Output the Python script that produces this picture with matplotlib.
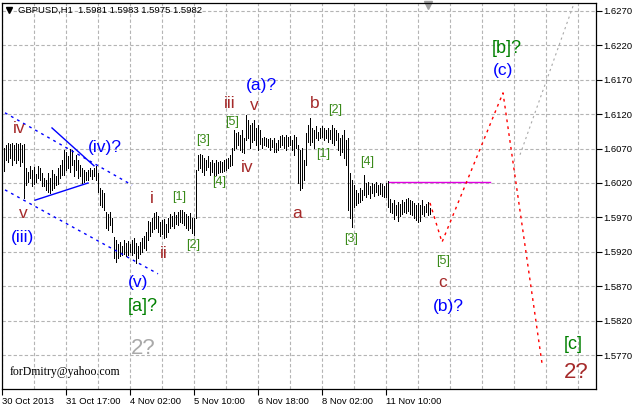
#GBPUSD H1 chart with Elliott wave count
#MT4 style bar chart

import numpy as np
import matplotlib.pyplot as plt
from matplotlib.ticker import FixedLocator, FuncFormatter

#hourly highs and lows, one entry per bar (bars are 1 unit apart)
highs = [1.6071, 1.6075, 1.6078, 1.6077, 1.6078, 1.6075, 1.6078, 1.6077, 1.6078, 1.6075,
         1.6077, 1.6042, 1.6036, 1.6045, 1.6039, 1.6043, 1.6033, 1.6045, 1.6042, 1.6035,
         1.6027, 1.6024, 1.6035, 1.6027, 1.6039, 1.6033, 1.6030, 1.6042, 1.6046, 1.6053,
         1.6068, 1.6065, 1.6059, 1.6069, 1.6068, 1.6053, 1.6061, 1.6053, 1.6046, 1.6042,
         1.6039, 1.6036, 1.6039, 1.6042, 1.6039, 1.6042, 1.6045, 1.6035, 1.6013, 1.6010,
         1.6005, 1.5978, 1.5975, 1.5978, 1.5969, 1.5941, 1.5937, 1.5931, 1.5934, 1.5928,
         1.5937, 1.5933, 1.5936, 1.5931, 1.5937, 1.5940, 1.5933, 1.5928, 1.5934, 1.5940,
         1.5943, 1.5949, 1.5965, 1.5963, 1.5969, 1.5976, 1.5978, 1.5972, 1.5963, 1.5966,
         1.5968, 1.5960, 1.5969, 1.5975, 1.5972, 1.5978, 1.5973, 1.5978, 1.5981, 1.5981,
         1.5978, 1.5975, 1.5972, 1.5976, 1.5969, 1.5969, 1.6039, 1.6061, 1.6062, 1.6061,
         1.6056, 1.6053, 1.6059, 1.6051, 1.6053, 1.6049, 1.6053, 1.6051, 1.6052, 1.6051,
         1.6053, 1.6055, 1.6056, 1.6061, 1.6071, 1.6097, 1.6093, 1.6094, 1.6090, 1.6097,
         1.6085, 1.6119, 1.6112, 1.6104, 1.6107, 1.6112, 1.6100, 1.6104, 1.6097, 1.6085,
         1.6087, 1.6085, 1.6084, 1.6085, 1.6082, 1.6085, 1.6078, 1.6082, 1.6088, 1.6090,
         1.6087, 1.6090, 1.6087, 1.6088, 1.6082, 1.6090, 1.6087, 1.6075, 1.6068, 1.6071,
         1.6053, 1.6093, 1.6104, 1.6114, 1.6100, 1.6097, 1.6103, 1.6094, 1.6100, 1.6103,
         1.6100, 1.6097, 1.6100, 1.6097, 1.6104, 1.6100, 1.6097, 1.6093, 1.6085, 1.6090,
         1.6097, 1.6082, 1.6085, 1.6035, 1.6024, 1.6017, 1.6010, 1.6005, 1.6013, 1.6010,
         1.6032, 1.6020, 1.6021, 1.6016, 1.6020, 1.6019, 1.6021, 1.6017, 1.6020, 1.6019,
         1.6016, 1.6020, 1.6023, 1.5997, 1.5991, 1.5995, 1.5988, 1.5992, 1.5989, 1.5995,
         1.5992, 1.5997, 1.5998, 1.5995, 1.5994, 1.5991, 1.5988, 1.5991, 1.5988, 1.5995,
         1.5987, 1.5989, 1.5992, 1.5983]
lows = [1.6037, 1.6053, 1.6051, 1.6056, 1.6046, 1.6053, 1.6049, 1.6053, 1.6045, 1.6051,
        1.5998, 1.6017, 1.6021, 1.6027, 1.6016, 1.6019, 1.6021, 1.6027, 1.6024, 1.6016,
        1.6016, 1.6010, 1.6007, 1.6005, 1.6010, 1.6013, 1.6017, 1.6019, 1.6027, 1.6032,
        1.6032, 1.6039, 1.6042, 1.6036, 1.6046, 1.6030, 1.6039, 1.6027, 1.6030, 1.6020,
        1.6021, 1.6024, 1.6024, 1.6030, 1.6026, 1.6030, 1.6024, 1.6007, 1.5988, 1.5985,
        1.5981, 1.5955, 1.5952, 1.5959, 1.5949, 1.5911, 1.5905, 1.5911, 1.5914, 1.5915,
        1.5917, 1.5914, 1.5915, 1.5920, 1.5915, 1.5918, 1.5904, 1.5911, 1.5917, 1.5920,
        1.5925, 1.5923, 1.5937, 1.5943, 1.5949, 1.5953, 1.5955, 1.5949, 1.5943, 1.5946,
        1.5940, 1.5941, 1.5949, 1.5955, 1.5957, 1.5955, 1.5960, 1.5959, 1.5963, 1.5962,
        1.5959, 1.5955, 1.5952, 1.5955, 1.5947, 1.5944, 1.5969, 1.6039, 1.6042, 1.6036,
        1.6032, 1.6039, 1.6043, 1.6032, 1.6036, 1.6029, 1.6032, 1.6035, 1.6036, 1.6036,
        1.6037, 1.6039, 1.6042, 1.6045, 1.6046, 1.6068, 1.6071, 1.6075, 1.6068, 1.6065,
        1.6064, 1.6082, 1.6085, 1.6071, 1.6080, 1.6082, 1.6075, 1.6068, 1.6077, 1.6071,
        1.6075, 1.6074, 1.6072, 1.6068, 1.6072, 1.6065, 1.6065, 1.6068, 1.6072, 1.6075,
        1.6071, 1.6068, 1.6074, 1.6075, 1.6068, 1.6061, 1.6071, 1.6020, 1.6010, 1.6013,
        1.6024, 1.6046, 1.6080, 1.6075, 1.6080, 1.6071, 1.6085, 1.6082, 1.6085, 1.6087,
        1.6082, 1.6085, 1.6080, 1.6084, 1.6078, 1.6075, 1.6082, 1.6068, 1.6061, 1.6065,
        1.6056, 1.6046, 1.5981, 1.5969, 1.5956, 1.5985, 1.5988, 1.5991, 1.5992, 1.5995,
        1.6003, 1.6000, 1.6004, 1.5998, 1.6005, 1.6001, 1.6007, 1.6003, 1.6004, 1.6001,
        1.6000, 1.6000, 1.5985, 1.5978, 1.5976, 1.5968, 1.5973, 1.5965, 1.5972, 1.5975,
        1.5978, 1.5976, 1.5979, 1.5975, 1.5973, 1.5969, 1.5966, 1.5963, 1.5965, 1.5975,
        1.5972, 1.5978, 1.5973, 1.5975]

#time axis labels (every 32 bars)
time_labels = ['30 Oct 2013', '31 Oct 17:00', '4 Nov 02:00', '5 Nov 10:00',
               '6 Nov 18:00', '8 Nov 02:00', '11 Nov 10:00']
price_ticks = [1.5770, 1.5820, 1.5870, 1.5920, 1.5970, 1.6020,
               1.6070, 1.6120, 1.6170, 1.6220, 1.6270]

#forecast path (bar, price)
forecast_bar = [214, 220, 250.5, 270]
forecast_price = [1.5991, 1.5934, 1.6151, 1.5758]
#alternative path
alt_bar = [259, 286]
alt_price = [1.6061, 1.6281]
#resistance level
level_bar = [193.5, 244]
level_price = [1.6022, 1.6022]
#channel and triangle lines
chan_up_bar, chan_up_price = [1.5, 65], [1.6122, 1.6017]
chan_lo_bar, chan_lo_price = [1.5, 78], [1.6010, 1.5888]
tri_up_bar, tri_up_price = [25, 46], [1.6100, 1.6045]
tri_lo_bar, tri_lo_price = [16.5, 43], [1.5995, 1.6020]

#wave labels: text, bar, price, degree
labels = [('iv', 8.5, 1.6099, 'minute'), ('v', 10.5, 1.5976, 'minute'),
          ('(iii)', 10.5, 1.5941, 'minor'), ('(iv)?', 51.5, 1.6071, 'minor'),
          ('i', 75, 1.5998, 'minute'), ('ii', 81, 1.5918, 'minute'),
          ('[1]', 88.5, 1.5999, 'micro'), ('[2]', 95.5, 1.5930, 'micro'),
          ('(v)', 68, 1.5876, 'minor'), ('[a]?', 70.5, 1.5840, 'inter'),
          ('2?', 70.5, 1.5780, 'grey'),
          ('[3]', 100.5, 1.6082, 'micro'), ('[4]', 108.5, 1.6021, 'micro'),
          ('[5]', 115, 1.6109, 'micro'), ('iii', 114, 1.6136, 'minute'),
          ('v', 126, 1.6133, 'minute'), ('(a)?', 129.5, 1.6162, 'minor'),
          ('iv', 122.5, 1.6042, 'minute'), ('a', 147.5, 1.5976, 'minute'),
          ('b', 156.5, 1.6136, 'minute'), ('[2]', 166.5, 1.6126, 'micro'),
          ('[1]', 160.5, 1.6062, 'micro'), ('[4]', 182.5, 1.6051, 'micro'),
          ('[3]', 174.5, 1.5939, 'micro'), ('[5]', 220.5, 1.5907, 'micro'),
          ('c', 220.5, 1.5876, 'minute'), ('(b)?', 223, 1.5840, 'minor'),
          ('[b]?', 252.5, 1.6215, 'inter'), ('(c)', 250.5, 1.6183, 'minor'),
          ('[c]', 285.5, 1.5786, 'inter'), ('2?', 287, 1.5745, 'big')]
styles = {'minute': ('#a52a2a', 12.5), 'minor': ('#0000ff', 12.5),
          'micro': ('#3a8a1a', 9), 'inter': ('#008000', 13),
          'grey': ('#a9a9a9', 16), 'big': ('#a52a2a', 16)}

fig = plt.figure(figsize=(6.33, 4.07), dpi=100)
ax = fig.add_axes([2/633, 18/407, 594/633, 386/407])

#bars, 1 px wide
x = np.arange(1, len(highs)+1)
ax.vlines(x, lows, highs, color='black', lw=0.72, antialiased=False)

#lines
ax.plot(chan_up_bar, chan_up_price, color='blue', lw=1, ls=(0, (2, 3)))
ax.plot(chan_lo_bar, chan_lo_price, color='blue', lw=1, ls=(0, (2, 3)))
ax.plot(tri_up_bar, tri_up_price, color='blue', lw=1)
ax.plot(tri_lo_bar, tri_lo_price, color='blue', lw=1)
ax.plot(level_bar, level_price, color='#e000e0', lw=1)
ax.plot(forecast_bar, forecast_price, color='red', lw=1, ls=(0, (2, 3)))
ax.plot(alt_bar, alt_price, color='#a8a8a8', lw=0.8, ls=(0, (2, 3)))

for txt, b, p, kind in labels:
    c, s = styles[kind]
    ax.text(b, p, txt, color=c, fontsize=s, ha='center', va='center',
            family='Liberation Sans')

ax.text(4, 1.5745, 'forDmitry@yahoo.com', fontsize=8.5, family='Liberation Serif',
        va='center', ha='left')
ax.text(0.027, 0.982, 'GBPUSD,H1  1.5981 1.5983 1.5975 1.5982', transform=ax.transAxes,
        fontsize=6.8, family='Liberation Sans', va='center', ha='left')
ax.plot([0.0118], [0.982], marker='v', color='black', ms=4, transform=ax.transAxes)
ax.plot([0.717], [0.994], marker='v', color='#a0a0a0', ms=6, transform=ax.transAxes,
        clip_on=False)

#axes
ax.set_xlim(0, 297)
ax.set_ylim(1.57206, 1.62816)
ax.yaxis.tick_right()
ax.set_yticks(price_ticks)
ax.yaxis.set_major_formatter(FuncFormatter(lambda v, pos: '%.4f' % v))
ax.set_xticks(np.arange(len(time_labels))*32)
ax.set_xticklabels(time_labels, ha='left')
ax.xaxis.set_minor_locator(FixedLocator(np.arange(16, 297, 16)))
ax.tick_params(axis='both', which='major', labelsize=6.8, length=4, width=0.8, pad=1.5)
ax.tick_params(axis='x', which='minor', length=0)
for lab in ax.get_xticklabels() + ax.get_yticklabels():
    lab.set_family('Liberation Sans')
ax.grid(True, which='both', axis='x', color='#b4b4b4', lw=0.8, ls=(0, (3, 2)))
ax.grid(True, which='major', axis='y', color='#b4b4b4', lw=0.8, ls=(0, (3, 2)))
ax.set_axisbelow(True)
for sp in ax.spines.values():
    sp.set_linewidth(0.9)

plt.savefig('out.png', dpi=100)
